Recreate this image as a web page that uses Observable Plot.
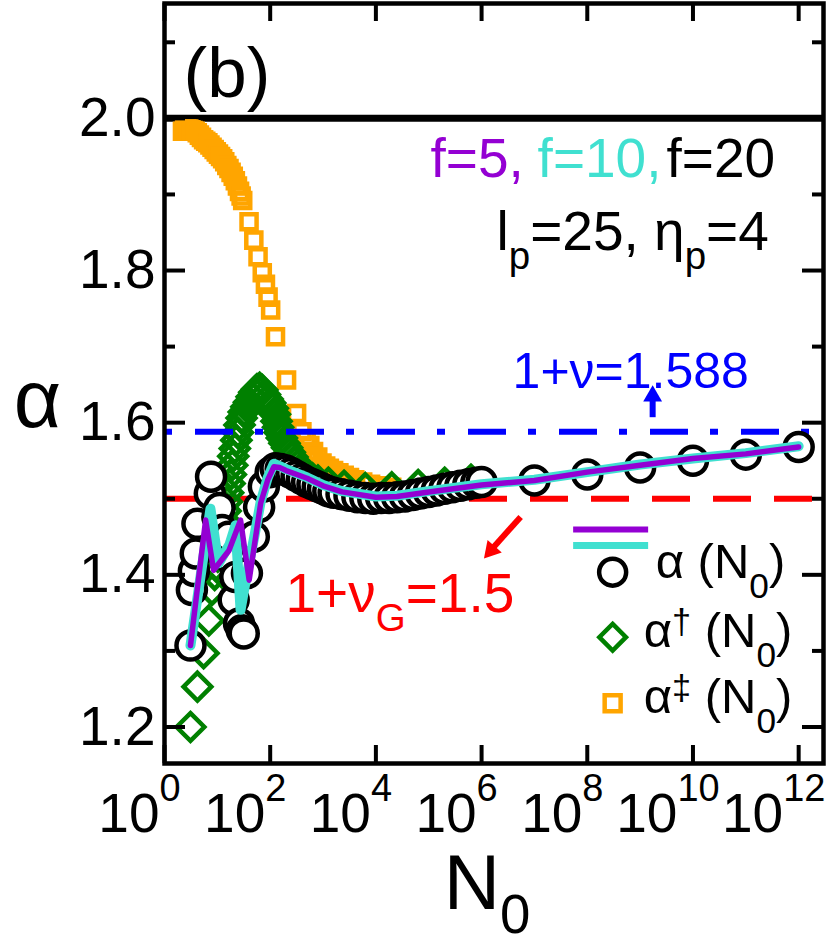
<!DOCTYPE html>
<html><head><meta charset="utf-8">
<script src="https://cdn.jsdelivr.net/npm/d3@7"></script>
<script src="https://cdn.jsdelivr.net/npm/@observablehq/plot@0.6"></script>
<style>body{margin:0;background:#fff} svg{display:block}</style>
</head><body><div id="chart"></div>
<script>
// ---- data (N0 values, alpha values) ----
const circN = [3.1,3.3,3.6,3.9,4.2,7.2,7.6,10,11,12.3,14.1,16.2,19,20.4,21.9,25.7,28.8,31.6,36.3,49,61.7,75.9,102,126,158,200,251,316,398,501,631,794,1000,1259,1585,2239,3162,4467,6310,8913,12590,17780,25120,35480,50120,70790,1e5,1.413e5,1.995e5,2.818e5,3.981e5,5.623e5,7.943e5,1e6,1e7,1e8,1e9,1e10,1e11,1e12];
const circA = [1.307,1.380,1.405,1.428,1.467,1.507,1.529,1.476,1.488,1.459,1.437,1.450,1.419,1.367,1.397,1.336,1.327,1.323,1.402,1.450,1.489,1.516,1.535,1.540,1.539,1.537,1.534,1.530,1.526,1.522,1.519,1.516,1.513,1.510,1.508,1.506,1.504,1.502,1.501,1.500,1.501,1.501,1.502,1.503,1.505,1.507,1.509,1.511,1.513,1.515,1.517,1.519,1.521,1.522,1.524,1.532,1.541,1.550,1.558,1.568];

const diaN = [3.1,4.2,5.5,6.9,7.9,8.9,9.55,10.2,11.0,11.7,12.6,13.5,14.3,15.1,16.0,17.0,18.0,19.1,20.0,21.4,22.9,24.5,26.3,28.8,31.6,35.5,39.8,44.7,50.1,56.2,63.1,70.8,79.4,89.1,100,112,123,132,141,151,166,186,209,234,263,295,331,372,427,501,630,800,1260,2500,6300,20000,63000,2e5,6.3e5];
const diaA = [1.200,1.253,1.297,1.340,1.380,1.400,1.412,1.424,1.436,1.448,1.460,1.472,1.484,1.496,1.508,1.520,1.532,1.544,1.556,1.566,1.577,1.587,1.597,1.606,1.614,1.621,1.627,1.634,1.640,1.644,1.646,1.643,1.637,1.631,1.626,1.619,1.611,1.602,1.594,1.587,1.580,1.573,1.567,1.561,1.555,1.549,1.544,1.539,1.535,1.531,1.527,1.524,1.521,1.517,1.514,1.515,1.518,1.521,1.525];

const sqN = [2.19,2.4,2.63,2.88,3.16,3.47,3.8,4.17,4.57,5.01,5.5,6.03,6.61,7.24,7.94,8.71,9.55,10.5,11.5,12.6,13.8,15.1,16.6,18.2,20,21.9,24,26.3,28.2,30.2,39.8,49,58.9,70.8,81.3,91.2,102,126,204,316,398,479,562,661,794,955,1122,1318,1585,1995,2512,3162,3981,5623,7943,12590,19950];
const sqA = [1.983,1.985,1.986,1.986,1.985,1.984,1.983,1.981,1.978,1.975,1.972,1.970,1.968,1.965,1.962,1.959,1.956,1.953,1.950,1.947,1.943,1.938,1.934,1.929,1.924,1.918,1.911,1.904,1.898,1.892,1.864,1.840,1.818,1.797,1.782,1.765,1.748,1.713,1.656,1.612,1.588,1.578,1.570,1.562,1.555,1.547,1.543,1.540,1.537,1.534,1.531,1.528,1.525,1.522,1.519,1.517,1.515];

const f5N = [3.1,6.0,8.5,16.6,27.5,40,66,90,117,150,200,500,1000,2300,1e4,2.5e4,1e5,1e6,1e7,1e8,1e9,1e10,1e11,1e12];
const f5A = [1.307,1.472,1.406,1.432,1.472,1.393,1.494,1.525,1.542,1.541,1.537,1.527,1.517,1.509,1.502,1.503,1.509,1.518,1.524,1.535,1.544,1.553,1.559,1.568];
const f10N = [3.1,7.4,10.5,17,22,27.5,36,50,66,90,117,150,200,500,1000,2300,1e4,2.5e4,1e5,1e6,1e7,1e8,1e9,1e10,1e11,1e12];
const f10A = [1.307,1.487,1.415,1.440,1.465,1.354,1.400,1.450,1.496,1.528,1.546,1.543,1.539,1.528,1.518,1.510,1.503,1.504,1.510,1.519,1.525,1.535,1.545,1.553,1.560,1.569];

const nuF = 1.588, nuG = 1.5, alphaMax = 2.0;
const xTicks = [1,1e2,1e4,1e6,1e8,1e10,1e12];
const yTicks = [1.2,1.4,1.6,1.8,2.0];
const yMinor = [1.3,1.5,1.7,1.9,2.1];

// ---- layout ----
const W = 830, H = 945, ML = 164, MR = 7, MT = 3, MB = 182;
const PW = W - ML - MR, PH = H - MT - MB;
const FONT = "'Liberation Sans', Arial, Helvetica, sans-serif";
const C = {purple: "#9400D3", cyan: "#40E0D0", green: "#008000", orange: "#FFA500", blue: "#0000FF", red: "#FF0000"};

const rows = (N, A) => N.map((n, i) => ({N: n, a: A[i]}));
const L = (e) => Math.pow(10, e);
const note = (x, y, t, o = {}) => Plot.text([{x, y, t}], {x: "x", y: "y", text: "t", textAnchor: "start", lineAnchor: "bottom", fontSize: 55, fill: "black", ...o});

const chart = Plot.plot({
  width: W, height: H,
  marginLeft: ML, marginRight: MR, marginTop: MT, marginBottom: MB,
  style: {fontFamily: FONT, background: "white", color: "black", overflow: "visible"},
  x: {type: "log", domain: [1, L(12.47)], label: null},
  y: {domain: [1.152, 2.151], label: null},
  marks: [
    Plot.ruleY([nuG], {stroke: C.red, strokeWidth: 6, strokeDasharray: "38,23"}),
    Plot.ruleY([alphaMax], {stroke: "black", strokeWidth: 7}),
    Plot.dot(rows(sqN, sqA), {x: "N", y: "a", symbol: "square", r: 8.5, stroke: C.orange, strokeWidth: 4.5, fill: "none"}),
    Plot.dot(rows(diaN, diaA), {x: "N", y: "a", symbol: "diamond2", r: 12.5, stroke: C.green, strokeWidth: 4.5, fill: "none"}),
    Plot.ruleY([nuF], {stroke: C.blue, strokeWidth: 6, strokeDasharray: "8,23,38,22"}),
    Plot.dot(rows(circN, circA), {x: "N", y: "a", r: 14, stroke: "black", strokeWidth: 4.5, fill: "white"}),
    Plot.line(rows(f10N, f10A), {x: "N", y: "a", stroke: C.cyan, strokeWidth: 10, strokeLinejoin: "round"}),
    Plot.line(rows(f5N, f5A), {x: "N", y: "a", stroke: C.purple, strokeWidth: 5.5, strokeLinejoin: "round"}),

    // arrows
    Plot.link([{x1: L(9.237), y1: 1.6072, x2: L(9.237), y2: 1.6296}], {x1: "x1", y1: "y1", x2: "x2", y2: "y2", stroke: C.blue, strokeWidth: 6}),
    Plot.dot([{x: L(9.237), y: 1.6349}], {x: "x", y: "y", symbol: "triangle2", r: 9, fill: C.blue, stroke: "none"}),
    Plot.link([{x1: L(6.739), y1: 1.4761, x2: L(6.209), y2: 1.4349}], {x1: "x1", y1: "y1", x2: "x2", y2: "y2", stroke: C.red, strokeWidth: 6}),
    Plot.dot([{x: L(6.180), y: 1.4322}], {x: "x", y: "y", symbol: "triangle2", r: 9, fill: C.red, stroke: "none", rotate: 221}),

    // annotations
    note(L(0.36), 2.028, "(b)", {fontSize: 71}),
    note(L(5.035), 1.9228, "f=5,", {fill: C.purple}),
    note(L(7.06), 1.9228, "f=10,", {fill: C.cyan}),
    note(L(9.50), 1.9228, "f=20"),
    note(L(6.284), 1.8268, "l_{p}=25, η_{p}=4"),
    note(L(6.587), 1.6454, "1+ν=1.588", {fill: C.blue, fontSize: 50}),
    note(L(2.29), 1.3509, "1+ν_{G}=1.5", {fill: C.red}),

    // legend
    Plot.ruleY([{y: 1.4597, x1: L(7.742), x2: L(9.161)}], {y: "y", x1: "x1", x2: "x2", stroke: C.purple, strokeWidth: 6}),
    Plot.ruleY([{y: 1.4387, x1: L(7.742), x2: L(9.161)}], {y: "y", x1: "x1", x2: "x2", stroke: C.cyan, strokeWidth: 7}),
    Plot.dot([{x: L(8.48), y: 1.4035}], {x: "x", y: "y", r: 13.5, stroke: "black", strokeWidth: 4.5, fill: "white"}),
    Plot.dot([{x: L(8.48), y: 1.318}], {x: "x", y: "y", symbol: "diamond2", r: 12, stroke: C.green, strokeWidth: 4.5, fill: "none"}),
    Plot.dot([{x: L(8.48), y: 1.2312}], {x: "x", y: "y", symbol: "square", r: 9, stroke: C.orange, strokeWidth: 4.5, fill: "none"}),
    note(L(9.294), 1.3956, "α (N_0.41:0.72{0})", {fontSize: 49}),
    note(L(9.067), 1.3048, "α^0.28:0.7{†} (N_0.41:0.72{0})", {fontSize: 49}),
    note(L(9.067), 1.218, "α^0.28:0.7{‡} (N_0.41:0.72{0})", {fontSize: 49}),

    // axis titles
    Plot.text(["α"], {frameAnchor: "left", dx: -127, dy: 17, fontSize: 82, textAnchor: "middle"}),
    Plot.text(["N_0.31:0.7{0}"], {frameAnchor: "bottom", dx: -7, dy: 145, lineAnchor: "bottom", fontSize: 78, textAnchor: "middle"}),

    // frame & inward ticks
    Plot.frame({stroke: "black", strokeWidth: 4.5}),
    Plot.tickY(yTicks, {insetRight: PW - 21, strokeWidth: 4}),
    Plot.tickY(yTicks, {insetLeft: PW - 21, strokeWidth: 4}),
    Plot.tickY(yMinor, {insetRight: PW - 11, strokeWidth: 4}),
    Plot.tickY(yMinor, {insetLeft: PW - 11, strokeWidth: 4}),
    Plot.tickX(xTicks, {insetTop: PH - 18, strokeWidth: 4}),
    Plot.tickX(xTicks, {insetBottom: PH - 18, strokeWidth: 4}),

    // tick labels
    Plot.axisY({ticks: yTicks, tickSize: 0, tickPadding: 9, fontSize: 55, tickFormat: d => d.toFixed(1), label: null}),
    Plot.axisX({ticks: xTicks, tickSize: 0, tickPadding: 29, fontSize: 55, dx: -25, tickFormat: d => `10^0.56:0.69{${Math.round(Math.log10(d))}}`, label: null})
  ]
});

document.getElementById("chart").appendChild(chart);

// convert ^{..} and _{..} markup into tspans
function richify(root) {
  const re = /([_^])(?:([\d.]+):([\d.]+))?\{([^}]*)\}/g;
  root.querySelectorAll("text").forEach(t => {
    const s = t.textContent;
    re.lastIndex = 0;
    if (!re.test(s)) return;
    re.lastIndex = 0;
    const fs = parseFloat(getComputedStyle(t).fontSize) || 16;
    const parts = [];
    let last = 0, m;
    while ((m = re.exec(s))) {
      if (m.index > last) parts.push({k: "", str: s.slice(last, m.index)});
      parts.push({k: m[1], shift: m[2] ? +m[2] : (m[1] === "^" ? 0.45 : 0.35), size: m[3] ? +m[3] : 0.7, str: m[4]});
      last = re.lastIndex;
    }
    if (last < s.length) parts.push({k: "", str: s.slice(last)});
    while (t.firstChild) t.removeChild(t.firstChild);
    let cur = 0;
    for (const p of parts) {
      const target = p.k === "^" ? -p.shift * fs : p.k === "_" ? p.shift * fs : 0;
      const ts = document.createElementNS("http://www.w3.org/2000/svg", "tspan");
      if (target !== cur) ts.setAttribute("dy", (target - cur).toFixed(2));
      cur = target;
      if (p.k) ts.setAttribute("font-size", (p.size * fs).toFixed(2));
      ts.textContent = p.str;
      t.appendChild(ts);
    }
  });
}
richify(chart);
</script>
</body></html>
